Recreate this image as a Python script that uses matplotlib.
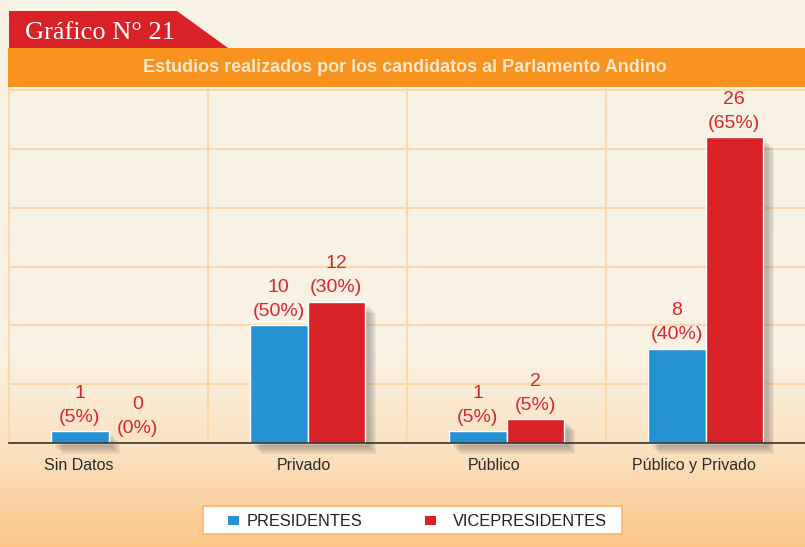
import numpy as np
import matplotlib
matplotlib.use('Agg')
import matplotlib.pyplot as plt
from matplotlib import patheffects as pe
from matplotlib.patches import Polygon, Rectangle
from matplotlib.colors import LinearSegmentedColormap

plt.rcParams['font.family'] = ['Liberation Sans', 'DejaVu Sans']

# datos
categorias = ['Sin Datos', 'Privado', 'Público', 'Público y Privado']
presidentes = [1, 10, 1, 8]
pres_pct = [5, 50, 5, 40]
vicepresidentes = [0, 12, 2, 26]
vice_pct = [0, 30, 5, 65]
series = ['PRESIDENTES', 'VICEPRESIDENTES']

# desplazamiento de las etiquetas de categoria (en unidades de grupo)
desplaz = [-0.15, -0.02, -0.06, -0.06]

AZUL = '#2592d3'
ROJO = '#d92128'
NARANJA = '#f7931e'
GRID = '#fad8ad'

W, H = 805, 547
fig = plt.figure(figsize=(W / 100, H / 100), dpi=100)


def px(x, y):
    # pixeles (desde arriba) -> coordenadas de figura
    return x / W, 1 - y / H


# fondo degradado
bg = fig.add_axes([0, 0, 1, 1], zorder=-10)
bg.axis('off')
fondo = LinearSegmentedColormap.from_list(
    'fondo', [(0, '#fcc68a'), (0.17, '#fbe1bf'), (0.36, '#faf3e4'), (1, '#f7f2e5')])
bg.imshow(np.linspace(0, 1, 256).reshape(-1, 1), cmap=fondo, aspect='auto',
          extent=[0, 1, 0, 1], origin='lower')

# encabezado
tab = Polygon([px(9, 11), px(177, 11), px(228, 48), px(9, 48)], closed=True,
              transform=fig.transFigure, facecolor=ROJO, edgecolor='none')
fig.patches.append(tab)
banda = Rectangle(px(8, 87), (W - 8) / W, 39 / H, transform=fig.transFigure,
                  facecolor=NARANJA, edgecolor='none')
fig.patches.append(banda)
fig.text(*px(25, 39), 'Gráfico N° 21', family=['Liberation Serif', 'DejaVu Serif'],
         fontsize=19, color='white', ha='left', va='baseline')
fig.text(*px(405, 68), 'Estudios realizados por los candidatos al Parlamento Andino',
         fontsize=13, fontweight='bold', color='#fde7c8', ha='center', va='center')

# area del grafico
ax = fig.add_axes([9 / W, 104 / H, 796 / W, 355 / H])
ax.patch.set_alpha(0)
x = np.arange(len(categorias))
w = 0.29

sombra = [pe.SimplePatchShadow(offset=(d, -d), shadow_rgbFace='#555555', alpha=0.08)
          for d in (8, 7, 6, 5, 4, 3)] + [pe.Normal()]
b1 = ax.bar(x - w / 2, presidentes, w, color=AZUL, edgecolor='white', linewidth=1,
            zorder=3, clip_on=False)
b2 = ax.bar(x + w / 2, vicepresidentes, w, color=ROJO, edgecolor='white', linewidth=1,
            zorder=3, clip_on=False)
for b in list(b1) + list(b2):
    b.set_path_effects(sombra)

for barras, vals, pcts in ((b1, presidentes, pres_pct), (b2, vicepresidentes, vice_pct)):
    for b, v, p in zip(barras, vals, pcts):
        ax.annotate(f'{v}\n({p}%)', (b.get_x() + b.get_width() / 2, v),
                    xytext=(0, 4), textcoords='offset points', ha='center', va='bottom',
                    color='#d9262c', fontsize=14, linespacing=1.55, zorder=4)

ax.set_xlim(-0.5, 3.5)
ax.set_ylim(0, 30.2)
ax.set_xticks(x + np.array(desplaz))
ax.set_xticklabels(categorias, fontsize=11.5, color='#2b2b2b')
ax.set_xticks(np.arange(0.5, 3.5, 1), minor=True)
ax.set_yticks(np.arange(5, 31, 5))
ax.tick_params(axis='both', which='both', length=0, labelleft=False)
ax.tick_params(axis='x', pad=11)
ax.grid(True, axis='y', which='major', color=GRID, linewidth=1.5)
ax.grid(True, axis='x', which='minor', color=GRID, linewidth=1.5)
ax.set_axisbelow(True)
for s in ('top', 'right'):
    ax.spines[s].set_visible(False)
ax.spines['left'].set_color(GRID)
ax.spines['left'].set_linewidth(1.5)
ax.spines['bottom'].set_color('#333333')
ax.spines['bottom'].set_linewidth(1.2)
ax.spines['bottom'].set_zorder(5)

# leyenda
caja = Rectangle(px(203, 534), 419 / W, 28 / H, transform=fig.transFigure,
                 facecolor='white', edgecolor='#f8b66c', linewidth=1.2)
fig.patches.append(caja)
for (mx, tx), color, nombre in zip(((228, 247), (425, 453)), (AZUL, ROJO), series):
    fig.patches.append(Rectangle(px(mx, 525), 11 / W, 9 / H, transform=fig.transFigure,
                                 facecolor=color, edgecolor='none'))
    fig.text(*px(tx, 521), nombre, fontsize=11.8, color='#222222', ha='left', va='center')

fig.savefig('out.png', dpi=100)
